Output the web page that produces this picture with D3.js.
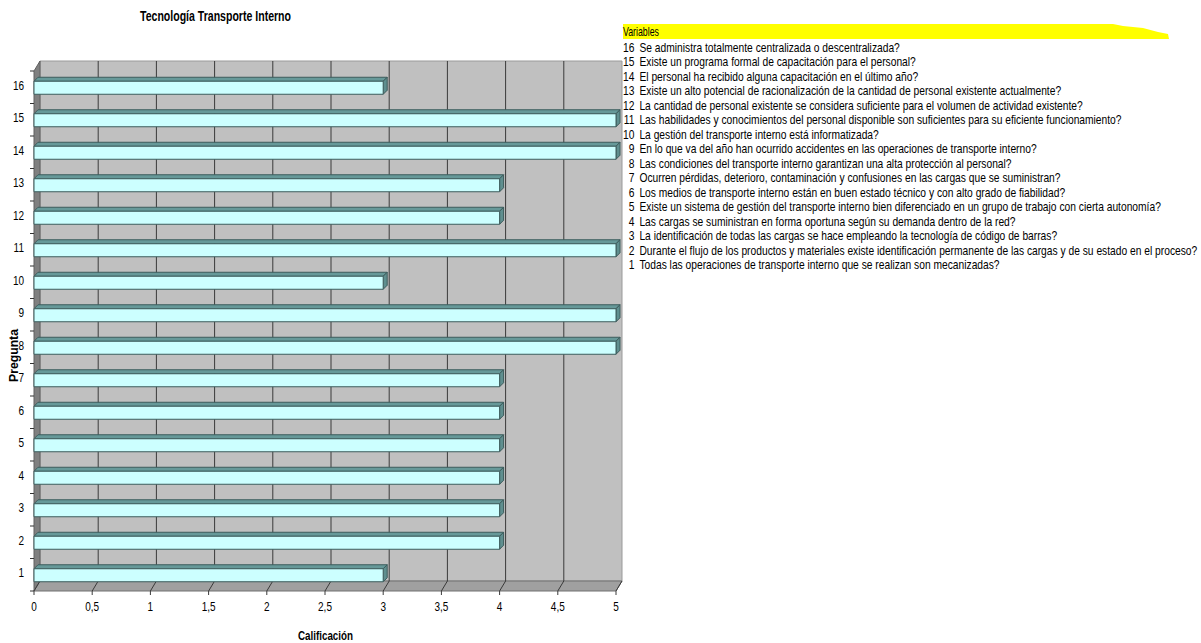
<!DOCTYPE html>
<html>
<head>
<meta charset="utf-8">
<script src="https://cdn.jsdelivr.net/npm/d3@7"></script>
<style>
  body { margin: 0; background: #fff; }
  svg { display: block; font-family: "Liberation Sans Narrow", "Arial Narrow", "Liberation Sans", sans-serif; }
</style>
</head>
<body>
<svg id="chart" width="1201" height="643"></svg>
<script>
const preguntas = [16, 15, 14, 13, 12, 11, 10, 9, 8, 7, 6, 5, 4, 3, 2, 1];
const calificacion = [3, 5, 5, 4, 4, 5, 3, 5, 5, 4, 4, 4, 4, 4, 4, 3];
const xTicks = [0, 0.5, 1, 1.5, 2, 2.5, 3, 3.5, 4, 4.5, 5];
const variables = [
  "Se administra totalmente centralizada o descentralizada?",
  "Existe un programa formal de capacitación para el personal?",
  "El personal ha recibido alguna capacitación en el último año?",
  "Existe un alto potencial de racionalización de la cantidad de personal existente actualmente?",
  "La cantidad de personal existente se considera suficiente para el volumen de actividad existente?",
  "Las habilidades y conocimientos del personal disponible son suficientes para su eficiente funcionamiento?",
  "La gestión del transporte interno está informatizada?",
  "En lo que va del año han ocurrido accidentes en las operaciones de transporte interno?",
  "Las condiciones del transporte interno garantizan una alta protección al personal?",
  "Ocurren pérdidas, deterioro, contaminación y confusiones en las cargas que se suministran?",
  "Los medios de transporte interno están en buen estado técnico y con alto grado de fiabilidad?",
  "Existe un sistema de gestión del transporte interno bien diferenciado en un grupo de trabajo con cierta autonomía?",
  "Las cargas se suministran en forma oportuna según su demanda dentro de la red?",
  "La identificación de todas las cargas se hace empleando la tecnología de código de barras?",
  "Durante el flujo de los productos y materiales existe identificación permanente de las cargas y de su estado en el proceso?",
  "Todas las operaciones de transporte interno que se realizan son mecanizadas?"
];

const svg = d3.select("#chart");
const data = preguntas.map((p, i) => ({ p, v: calificacion[i] }));

// front plane scales, back plane shifted by depth
const x = d3.scaleLinear().domain([0, 5]).range([34, 616]);
const y = d3.scaleBand().domain(preguntas).range([71, 591]);
const dx = 6, dy = -10;
const yTop = y.range()[0], yBot = y.range()[1];

const line = d3.line();

// walls
svg.append("path")
  .attr("d", line([[x(0) + dx, yTop + dy], [x(5) + dx, yTop + dy], [x(5) + dx, yBot + dy], [x(0) + dx, yBot + dy]]) + "Z")
  .attr("fill", "#c0c0c0").attr("stroke", "#9a9a9a").attr("stroke-width", 1);
svg.append("path")
  .attr("d", line([[x(0), yTop], [x(0) + dx, yTop + dy], [x(0) + dx, yBot + dy], [x(0), yBot]]) + "Z")
  .attr("fill", "#808080").attr("stroke", "#606060").attr("stroke-width", 1);
svg.append("path")
  .attr("d", line([[x(0), yBot], [x(0) + dx, yBot + dy], [x(5) + dx, yBot + dy], [x(5), yBot]]) + "Z")
  .attr("fill", "#a0a0a0").attr("stroke", "#707070").attr("stroke-width", 1);

// gridlines on back wall and floor
const grid = svg.append("g").attr("stroke", "#3a3a3a").attr("stroke-width", 1);
grid.selectAll(".gb").data(xTicks.slice(1, -1)).join("line")
  .attr("x1", d => x(d) + dx).attr("x2", d => x(d) + dx)
  .attr("y1", yTop + dy).attr("y2", yBot + dy);
grid.selectAll(".gf").data(xTicks).join("path")
  .attr("fill", "none")
  .attr("d", d => line([[x(d) + dx, yBot + dy], [x(d), yBot], [x(d), yBot + 4]]));

// y ticks on left wall
svg.append("g").attr("stroke", "#333").selectAll("line")
  .data(preguntas.concat(["end"]))
  .join("line")
  .attr("x1", x(0) - 4).attr("x2", x(0))
  .attr("y1", d => d === "end" ? yBot : y(d)).attr("y2", d => d === "end" ? yBot : y(d));

// bars
const bh = 13, bd = 4;
const bars = svg.append("g").selectAll("g").data(data).join("g")
  .attr("stroke", "#3d5c5c").attr("stroke-width", 1).attr("stroke-linejoin", "round");
const by = d => y(d.p) + y.bandwidth() / 2 - bh / 2 + 0.5;
bars.append("path").attr("fill", "#669999")
  .attr("d", d => line([[x(0), by(d)], [x(0) + bd, by(d) - bd], [x(d.v) + bd, by(d) - bd], [x(d.v), by(d)]]) + "Z");
bars.append("path").attr("fill", "#5f8f8f")
  .attr("d", d => line([[x(d.v), by(d)], [x(d.v) + bd, by(d) - bd], [x(d.v) + bd, by(d) + bh - bd], [x(d.v), by(d) + bh]]) + "Z");
bars.append("rect").attr("fill", "#ccffff")
  .attr("x", x(0)).attr("y", by).attr("width", d => x(d.v) - x(0)).attr("height", bh);

// axis labels (condensed like the original narrow font)
svg.append("text").attr("transform", "translate(18,382) rotate(-90)")
  .attr("textLength", 53).attr("lengthAdjust", "spacingAndGlyphs")
  .attr("font-size", 12.5).attr("font-weight", "bold").text("Pregunta");
svg.append("g").selectAll("text").data(preguntas).join("text")
  .attr("y", d => y(d) + y.bandwidth() / 2 - 2)
  .attr("dy", "0.35em").attr("text-anchor", "end")
  .attr("font-size", 12.5).attr("transform", "scale(0.8,1)")
  .attr("x", 24 / 0.8)
  .text(d => d);
svg.append("g").selectAll("text").data(xTicks).join("text")
  .attr("x", d => x(d) / 0.8).attr("y", yBot + 20)
  .attr("transform", "scale(0.8,1)")
  .attr("text-anchor", "middle").attr("font-size", 12.5)
  .text(d => String(d).replace(".", ","));

svg.append("text").attr("x", 140).attr("y", 21)
  .attr("textLength", 151).attr("lengthAdjust", "spacingAndGlyphs")
  .attr("font-size", 15).attr("font-weight", "bold").text("Tecnología Transporte Interno");
svg.append("text").attr("x", 298).attr("y", 640)
  .attr("textLength", 55).attr("lengthAdjust", "spacingAndGlyphs")
  .attr("font-size", 12.5).attr("font-weight", "bold").text("Calificación");

// legend
const legend = svg.append("g").attr("transform", "translate(623,0)");
legend.append("path").attr("fill", "#ffff00")
  .attr("d", "M0,24 L490,24 L500,26 L520,28 L535,32 L545,34 L546,39 L0,39 Z");
legend.append("text").attr("x", 0).attr("y", 36).attr("font-size", 13)
  .attr("textLength", 36).attr("lengthAdjust", "spacingAndGlyphs").text("Variables");
const rows = legend.append("g");
const rowY = d3.scaleLinear().domain([16, 1]).range([52, 269]);
rows.selectAll(".num").data(preguntas).join("text")
  .attr("x", 14).attr("y", d => rowY(d)).attr("text-anchor", "end")
  .attr("font-size", 12.5).text(d => d);
rows.selectAll(".txt").data(variables).join("text")
  .attr("x", 20).attr("y", (d, i) => rowY(preguntas[i]))
  .attr("font-size", 12.5).text(d => d);
// squeeze legend rows to fit the available width
const widest = d3.max(rows.selectAll("text").nodes(), n => n.getComputedTextLength() + (+n.getAttribute("x")));
const k = Math.min(1, 575 / widest);
rows.attr("transform", `scale(${k},1)`);
</script>
</body>
</html>
